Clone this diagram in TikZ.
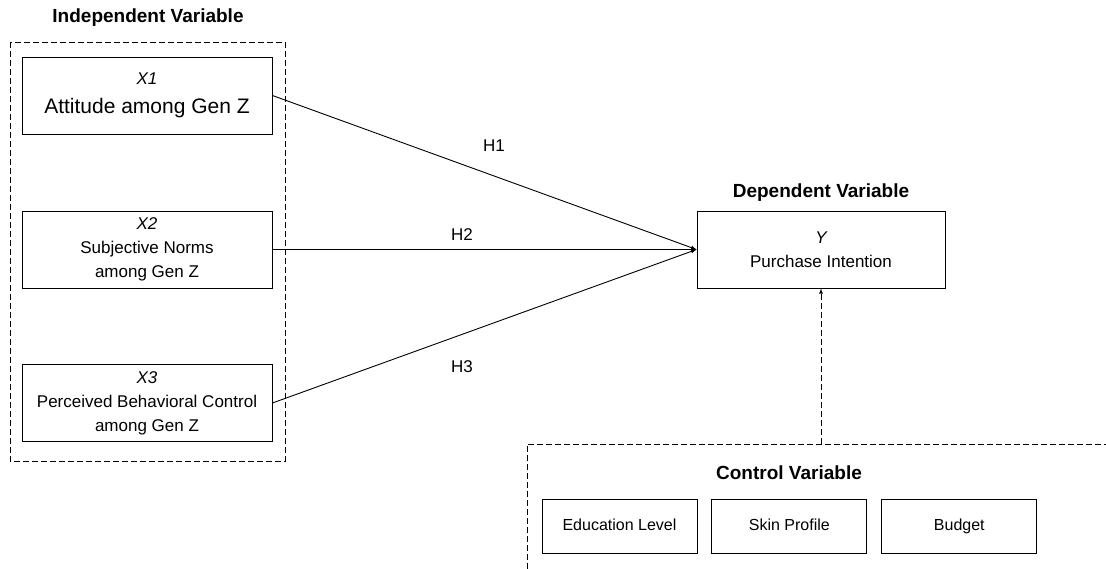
\documentclass[tikz,border=0pt]{standalone}
\usepackage{fontspec}
\setmainfont{Liberation Sans}
\usetikzlibrary{arrows,positioning}
\tikzset{
  varbox/.style  = {draw, line width=0.9pt, align=center, minimum width=250pt,
                    minimum height=77pt, inner sep=2pt,
                    font=\fontsize{17}{24}\selectfont},
  ctrlbox/.style = {draw, line width=0.9pt, minimum width=155pt, minimum height=54pt,
                    text height=12pt, text depth=3.5pt,
                    font=\fontsize{16}{20}\selectfont},
  title/.style   = {font=\fontsize{19}{22}\selectfont\bfseries},
  hlabel/.style  = {font=\fontsize{17}{20}\selectfont},
  group/.style   = {draw, line width=0.8pt, dash pattern=on 6pt off 3pt}
}

\begin{document}
\begin{tikzpicture}[x=1pt, y=-1pt, >=latex, line width=0.9pt]
\useasboundingbox (0,0) rectangle (1106,569);

% independent variables
\node[title] (indt) at (148,18) {Independent Variable};
\draw[group] (10,42) rectangle (285,461);
\node[varbox] (x1) at (147,95.5) {{\itshape X1}\\[5pt]{\fontsize{21}{26}\selectfont Attitude among Gen Z}};
\node[varbox] (x2) at (147,249.5) {{\itshape X2}\\Subjective Norms\\among Gen Z};
\node[varbox] (x3) at (147,403) {{\itshape X3}\\Perceived Behavioral Control\\among Gen Z};

% dependent variable
\node[title] (dept) at (821,193) {Dependent Variable};
\node[varbox, minimum width=248pt] (y) at (821,249.5) {{\itshape Y}\\Purchase Intention};

% hypotheses
\foreach \i in {1,2,3}
  \draw[->] (x\i.east) -- (y.west);
\node[hlabel] (h1) at (494,146) {H1};
\node[hlabel] (h2) at (462,235) {H2};
\node[hlabel] (h3) at (462,367) {H3};

% control variables
\coordinate (ctop) at (821,444);
\draw[group] (527,569) -- (527,444) -- (1106,444);
\draw[group, ->] (ctop) -- (y.south);
\node[title] (ctrlt) at (789,473) {Control Variable};
\node[ctrlbox] (edu) at (619.5,526) {Education Level};
\node[ctrlbox, right=14pt of edu] (skin) {Skin Profile};
\node[ctrlbox, right=14pt of skin] (budget) {Budget};

\end{tikzpicture}
\end{document}
